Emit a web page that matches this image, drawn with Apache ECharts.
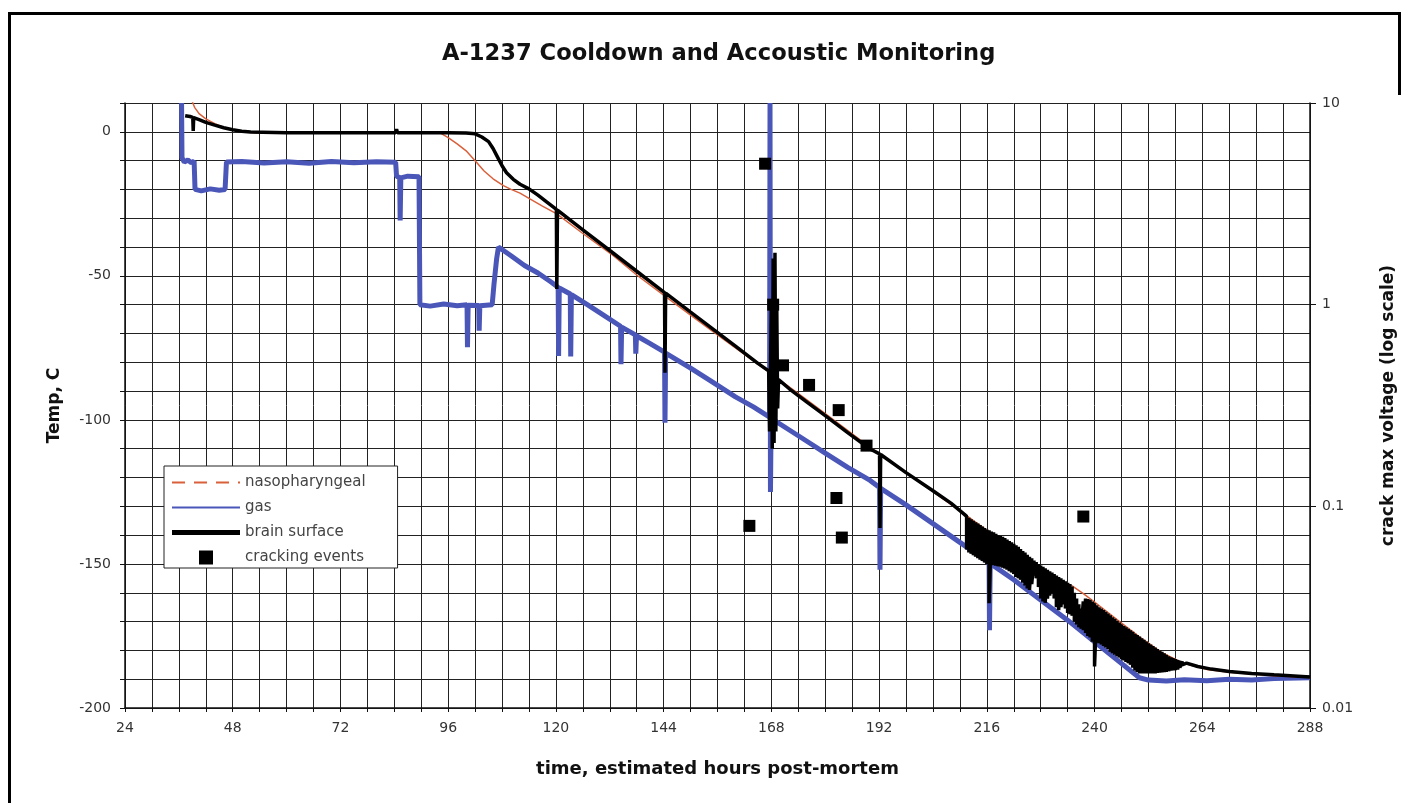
<!DOCTYPE html>
<html>
<head>
<meta charset="utf-8">
<script src="https://cdn.jsdelivr.net/npm/echarts@6/dist/echarts.min.js"></script>
<style>
html,body{margin:0;padding:0;background:#fff;}
#chart{width:1415px;height:803px;}
</style>
</head>
<body>
<div id="chart"></div>
<script>
// ---------- data ----------
const titleText = 'A-1237 Cooldown and Accoustic Monitoring';
const xName = 'time, estimated hours post-mortem';
const yLeftName = 'Temp, C';
const yRightName = 'crack max voltage (log scale)';
const seriesNames = ['nasopharyngeal', 'gas', 'brain surface', 'cracking events'];

// nasopharyngeal temperature [hour, C]
const nasopharyngeal = [
  [37.9, 18], [38.6, 12], [39.5, 8.5], [40.5, 6.3], [42, 4.5], [44, 2.8], [46, 1.5], [48, 0.7],
  [50, 0.1], [53, -0.3], [60, -0.3], [70, -0.3], [80, -0.3], [90, -0.3], [94.2, -0.4], [96, -2],
  [98, -4.2], [100, -6.6], [102.3, -10.6], [104, -13.6], [106, -16.3], [108.3, -18.7], [110, -20],
  [112, -21.3], [114.2, -23.3], [117, -25.8], [120.2, -28.5], [126, -35.3], [132.8, -43],
  [138, -49.7], [144.3, -57], [150, -63.6], [156, -70.5], [162, -77.3], [168, -84], [175, -92],
  [180, -97.8], [190, -109.5], [200, -120.5], [210, -131.6], [220, -142.8], [230, -153.6],
  [235, -157.6], [237.5, -160.3], [240, -163.2], [245, -169.3], [250, -175.3], [255, -180.8],
  [260, -184.6], [265, -186.6], [270, -187.6], [280, -188.8], [288, -189.4]
];

// gas temperature [hour, C]
const gas = [
  [36.6, 10], [36.7, -9], [37.2, -10.5], [38, -9.8], [38.8, -10.8], [39.4, -10.2], [39.6, -20],
  [41, -20.5], [43, -19.8], [45, -20.3], [46.3, -20], [46.6, -10.5], [50, -10.3], [55, -10.8],
  [60, -10.4], [65, -10.9], [70, -10.3], [75, -10.7], [80, -10.4], [84.3, -10.6], [84.5, -15.5],
  [85.2, -15.8], [85.3, -30.8], [85.45, -16], [87, -15.4], [89.5, -15.6], [89.7, -60], [92, -60.5],
  [95, -59.8], [98, -60.4], [100.2, -60], [100.3, -74.8], [100.45, -60.2], [102.8, -60.3],
  [102.9, -69], [103.05, -60.4], [105.8, -60], [106.2, -53], [106.8, -44], [107.2, -40],
  [110, -43], [113, -46.4], [116, -49], [119, -52.2], [120.5, -54], [120.6, -77.8], [120.75, -54.2],
  [123.2, -56.3], [123.3, -78], [123.45, -56.5], [127, -60], [130, -63], [134.4, -67.5],
  [134.5, -80.7], [134.65, -67.8], [137.7, -70.5], [137.8, -77], [137.95, -70.8], [141, -73.5],
  [144.2, -76.5], [144.3, -101], [144.45, -76.8], [150, -82], [155, -87], [160, -92], [164, -95.5],
  [167.6, -99], [167.7, 10], [167.8, -125], [167.95, -99.5], [172, -103.5], [176, -107.5],
  [180, -111.5], [185, -116.5], [190, -121], [192.1, -123.5], [192.2, -152], [192.35, -123.8],
  [198, -129.5], [204, -136], [210, -142.5], [216.5, -149.5], [216.6, -173], [216.75, -149.8],
  [222, -155.5], [228, -162.5], [234, -169.5], [240, -177], [245, -183.3], [250, -189.5],
  [252, -190.3], [256, -190.6], [260, -190.2], [265, -190.5], [270, -190], [275, -190.3],
  [280, -189.8], [288, -189.5]
];

// brain surface temperature [hour, C] (before the noisy band)
const brainStart = [
  [37.4, 5.6], [38.5, 5.3], [39.1, 5.0], [39.2, 0.3], [39.3, 4.9], [40.5, 4.2], [42, 3.3],
  [44, 2.3], [46, 1.4], [48, 0.7], [50, 0.2], [52, -0.1], [60, -0.3], [70, -0.3], [80, -0.3],
  [84.3, -0.3], [84.5, 0.9], [84.7, -0.3], [90, -0.3], [96, -0.3], [100, -0.4], [102, -0.7],
  [103.5, -1.8], [105, -3.4], [106, -5.8], [107, -8.8], [108, -11.8], [109, -14.2], [110.5, -16.5],
  [112, -18.2], [114, -19.8], [116, -22], [118, -24.4], [120.1, -26.9], [120.2, -54.6],
  [120.35, -27.2], [126, -34], [132, -41.2], [138, -48.4], [144.2, -55.8], [144.3, -83.6],
  [144.45, -56], [150, -62.6], [155, -68.5], [160, -74.4], [165, -80.4], [167.4, -83],
  [167.6, -104], [167.8, -84], [168.0, -58], [168.2, -110], [168.4, -44], [168.6, -108],
  [168.8, -42], [169.0, -104], [169.2, -60], [169.4, -96], [169.6, -86], [172, -89.2],
  [176, -93.9], [180, -98.5], [185, -104.4], [190, -110.1], [192.1, -111.8], [192.2, -137.5],
  [192.35, -112], [198, -118.3], [204, -124.6], [208, -128.9], [211, -132.8]
];
// brain surface noisy band: [hour, upper reading, lower reading]
const brainBand = [
  [211.5,-133.5,-145],[212,-134,-146],[212.5,-134.5,-146.5],[213,-135,-147],[213.5,-135.5,-147.5],
  [214,-136,-148],[214.5,-136.5,-148.5],[215,-137,-149],[215.5,-137.5,-149.5],[216,-138,-150],
  [216.5,-138.3,-163.6],[217,-138.7,-150.2],[217.5,-139,-150.4],[218,-139.5,-150.6],[218.5,-140,-150.8],
  [219,-140.3,-151],[219.5,-140.6,-151.3],[220,-141,-151.6],[220.5,-141.5,-152],[221,-142,-152.5],
  [221.5,-142.5,-153],[222,-143,-153.5],[222.5,-143.5,-154.5],[223,-144,-155],[223.5,-144.8,-155.5],
  [224,-145.5,-156.5],[224.5,-146,-157.5],[225,-146.8,-158.5],[225.5,-147.5,-159],[226,-148,-157],
  [226.5,-148.8,-154],[227,-149.3,-155],[227.5,-150,-158],[228,-150.5,-162],[228.5,-151,-163],
  [229,-151.5,-163.5],[229.5,-152,-162],[230,-152.5,-161],[230.5,-153,-160],[231,-153.5,-162],
  [231.5,-154,-165],[232,-154.5,-166],[232.5,-155,-165],[233,-155.5,-164],[233.5,-156,-165.5],
  [234,-156.5,-167],[234.5,-157,-167.5],[235,-157.8,-168],[235.5,-160,-170],[236,-162,-171],
  [236.5,-164,-172],[237,-165.5,-172.5],[237.5,-163,-173],[238,-162,-174],[238.5,-162.2,-175],
  [239,-162.4,-175.5],[239.5,-163,-177],[240,-163.6,-185.6],[240.5,-164.3,-177],[241,-165,-177.5],
  [241.5,-165.5,-178],[242,-166,-178.5],[242.5,-166.6,-179],[243,-167.2,-179.5],[243.5,-167.8,-180.5],
  [244,-168.5,-181],[244.5,-169,-181.5],[245,-169.7,-182],[245.5,-170.3,-182.5],[246,-171,-183],
  [246.5,-171.5,-183.5],[247,-172,-184],[247.5,-172.5,-184.5],[248,-173,-185],[248.5,-173.5,-186],
  [249,-174.2,-187],[249.5,-174.7,-187.5],[250,-175.2,-188],[250.5,-175.8,-188],[251,-176.3,-188],
  [251.5,-176.9,-188],[252,-177.5,-188],[252.5,-178,-188],[253,-178.5,-188],[253.5,-179,-188],
  [254,-179.5,-187.8],[254.5,-180,-187.7],[255,-180.5,-187.6],[255.5,-181,-187.5],[256,-181.5,-187.4],
  [256.5,-182,-187.2],[257,-182.4,-187],[257.5,-182.7,-186.9],[258,-183,-186.8],[258.5,-183.3,-186.6],
  [259,-183.6,-186],[259.5,-183.8,-185]
];
// brain surface after the band
const brainEnd = [
  [260.5, -184.4], [263, -185.6], [266, -186.5], [270, -187.3], [275, -188], [280, -188.5], [288, -189.2]
];

// cracking events [hour, max voltage]
const cracking = [
  [163.1, 0.08], [166.6, 5.0], [168.4, 1.0], [170.6, 0.5], [176.4, 0.4], [182.5, 0.11],
  [183.0, 0.3], [183.7, 0.07], [189.2, 0.2], [237.5, 0.089]
];

// axis settings
const xMin = 24, xMax = 288, xStep = 6, xLabelEvery = 24;
const yMin = -200, yMax = 10, yStep = 10, yLabelEvery = 50;
const vMin = 0.01, vMax = 10;

// ---------- build ----------
const brainSurface = brainStart.slice();
brainBand.forEach(r => { brainSurface.push([r[0], r[1]]); brainSurface.push([r[0], r[2]]); });
brainEnd.forEach(p => brainSurface.push(p));

const FONT = 'DejaVu Sans';
const NASO = '#d9603b', GAS = '#4b57b8', BRAIN = '#000000';
const chart = echarts.init(document.getElementById('chart'), null, {renderer: 'canvas'});

// legend icon shapes (line samples drawn as thin filled bars)
const iconDashed = 'path://M0,0h13v2h-13zM22,0h13v2h-13zM44,0h13v2h-13zM66,0h2v2h-2z';
const iconThin = 'path://M0,0h68v2h-68z';
const iconThick = 'path://M0,0h68v5h-68z';
const iconSquare = 'path://M0,0h10v10h-10z';

const option = {
  animation: false,
  backgroundColor: '#ffffff',
  textStyle: {fontFamily: FONT},
  title: {
    text: titleText,
    left: 437, top: 38,
    textStyle: {fontFamily: FONT, fontSize: 22.6, fontWeight: 'bold', color: '#111'}
  },
  grid: {left: 125, right: 105, top: 103, bottom: 95, containLabel: false},
  legend: {
    orient: 'vertical',
    left: 164, top: 466,
    padding: [9, 32, 3, 8],
    itemGap: 10,
    itemWidth: 68,
    itemHeight: 14,
    backgroundColor: '#fff',
    borderColor: '#222',
    borderWidth: 1,
    selectedMode: false,
    textStyle: {fontFamily: FONT, fontSize: 15, color: '#444'},
    data: [
      {name: seriesNames[0], icon: iconDashed, itemStyle: {color: NASO, opacity: 1}},
      {name: seriesNames[1], icon: iconThin, itemStyle: {color: GAS, opacity: 1}},
      {name: seriesNames[2], icon: iconThick, itemStyle: {color: BRAIN, opacity: 1}},
      {name: seriesNames[3], icon: iconSquare, itemStyle: {color: '#000', opacity: 1}}
    ]
  },
  xAxis: {
    type: 'value', min: xMin, max: xMax, interval: xStep,
    name: xName, nameLocation: 'middle', nameGap: 52,
    nameTextStyle: {fontFamily: FONT, fontSize: 18, fontWeight: 'bold', color: '#111'},
    axisLine: {show: true, onZero: false, lineStyle: {color: '#111', width: 1.5}},
    axisTick: {show: true, length: 4, lineStyle: {color: '#111'}},
    axisLabel: {
      margin: 13, fontFamily: FONT, fontSize: 14, color: '#333',
      formatter: v => (Math.round(v) % xLabelEvery === 0 ? String(Math.round(v)) : '')
    },
    splitLine: {show: true, lineStyle: {color: '#222', width: 1}}
  },
  yAxis: [
    {
      type: 'value', min: yMin, max: yMax, interval: yStep, position: 'left',
      name: yLeftName, nameLocation: 'middle', nameGap: 62,
      nameTextStyle: {fontFamily: FONT, fontSize: 17, fontWeight: 'bold', color: '#111'},
      axisLine: {show: true, onZero: false, lineStyle: {color: '#111', width: 1.5}},
      axisTick: {show: true, length: 5, lineStyle: {color: '#111'}},
      axisLabel: {
        margin: 14, fontFamily: FONT, fontSize: 14, color: '#333',
        formatter: v => (Math.round(v) % yLabelEvery === 0 ? String(Math.round(v)) : '')
      },
      splitLine: {show: true, lineStyle: {color: '#222', width: 1}}
    },
    {
      type: 'log', logBase: 10, min: vMin, max: vMax, position: 'right',
      name: yRightName, nameLocation: 'middle', nameGap: 70,
      nameTextStyle: {fontFamily: FONT, fontSize: 17, fontWeight: 'bold', color: '#111'},
      axisLine: {show: true, onZero: false, lineStyle: {color: '#111', width: 1.5}},
      axisTick: {show: true, length: 6, lineStyle: {color: '#111'}},
      axisLabel: {margin: 12, fontFamily: FONT, fontSize: 14, color: '#333'},
      splitLine: {show: false}
    }
  ],
  series: [
    {
      name: seriesNames[1], type: 'line', data: gas, yAxisIndex: 0, z: 2,
      showSymbol: false, symbol: 'none', clip: true, silent: true,
      lineStyle: {color: GAS, width: 5}, itemStyle: {color: GAS}
    },
    {
      name: seriesNames[0], type: 'line', data: nasopharyngeal, yAxisIndex: 0, z: 3,
      showSymbol: false, symbol: 'none', clip: true, silent: true,
      lineStyle: {color: NASO, width: 1.5}, itemStyle: {color: NASO}
    },
    {
      name: seriesNames[2], type: 'line', data: brainSurface, yAxisIndex: 0, z: 4,
      showSymbol: false, symbol: 'none', clip: true, silent: true,
      lineStyle: {color: BRAIN, width: 3.5}, itemStyle: {color: BRAIN}
    },
    {
      name: seriesNames[3], type: 'scatter', data: cracking, yAxisIndex: 1, z: 5,
      symbol: 'rect', symbolSize: 12, silent: true,
      itemStyle: {color: '#000', opacity: 1}
    }
  ],
  graphic: [
    {type: 'line', z: 100, shape: {x1: 8, y1: 13.5, x2: 1401, y2: 13.5}, style: {stroke: '#000', lineWidth: 3}},
    {type: 'line', z: 100, shape: {x1: 9.5, y1: 12, x2: 9.5, y2: 803}, style: {stroke: '#000', lineWidth: 3}},
    {type: 'line', z: 100, shape: {x1: 1399.5, y1: 12, x2: 1399.5, y2: 95}, style: {stroke: '#000', lineWidth: 3}}
  ]
};
chart.setOption(option);
</script>
</body>
</html>
